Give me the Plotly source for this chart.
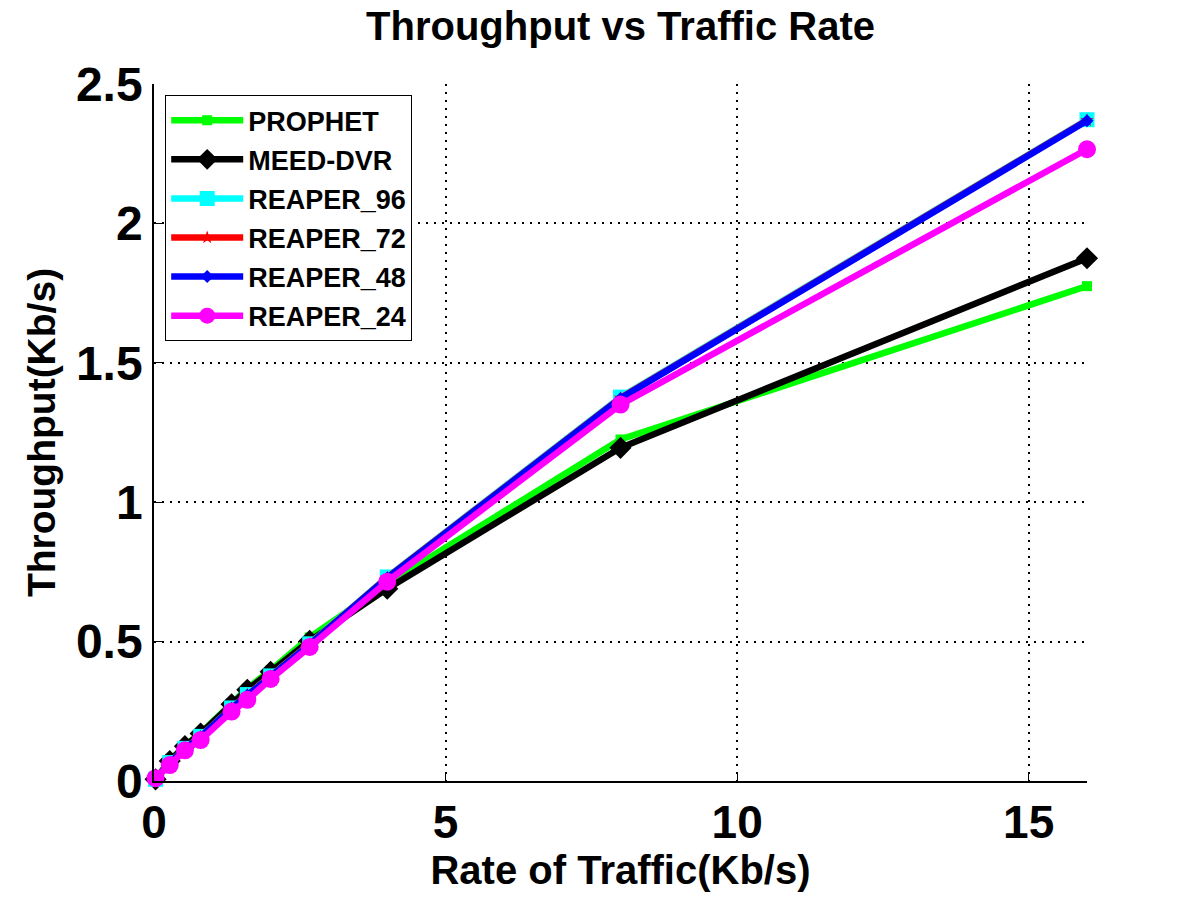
import plotly.graph_objects as go

rate = [0.027, 0.27, 0.53, 0.8, 1.33, 1.6, 2.0, 2.67, 4, 8, 16]

prophet = [0.006, 0.072, 0.127, 0.172, 0.278, 0.332, 0.397, 0.515, 0.708, 1.225, 1.775]
meed_dvr = [0.006, 0.072, 0.125, 0.170, 0.275, 0.327, 0.392, 0.503, 0.690, 1.195, 1.875]
reaper_96 = [0.006, 0.066, 0.117, 0.160, 0.262, 0.310, 0.377, 0.492, 0.732, 1.377, 2.372]
reaper_72 = [0.006, 0.065, 0.116, 0.159, 0.261, 0.309, 0.376, 0.491, 0.730, 1.374, 2.370]
reaper_48 = [0.006, 0.064, 0.115, 0.158, 0.260, 0.308, 0.375, 0.490, 0.728, 1.372, 2.368]
reaper_24 = [0.010, 0.057, 0.110, 0.147, 0.249, 0.291, 0.366, 0.481, 0.715, 1.350, 2.266]

names = ["PROPHET", "MEED-DVR", "REAPER_96", "REAPER_72", "REAPER_48", "REAPER_24"]
series = [prophet, meed_dvr, reaper_96, reaper_72, reaper_48, reaper_24]
colors = ["#00ff00", "#000000", "#00ffff", "#ff0000", "#0000ff", "#ff00ff"]
symbols = ["square", "diamond", "square", "star", "diamond", "circle"]
sizes = [10, 17, 15, 10, 10, 18]

fig = go.Figure()
for i, (n, s, c, sym, sz) in enumerate(zip(names, series, colors, symbols, sizes)):
    fig.add_trace(go.Scatter(
        x=rate, y=s, name=n, mode="lines+markers",
        line=dict(color=c, width=6.5),
        marker=dict(symbol=sym, size=sz, color=c, line=dict(width=0)),
        cliponaxis=False, legendgroup=n,
    ))

FONT = "Liberation Sans"
fig.update_layout(
    width=1200, height=900,
    margin=dict(l=154, r=113, t=84, b=119),
    paper_bgcolor="white", plot_bgcolor="white",
    font=dict(family=FONT, color="black"),
    title=dict(text="<b>Throughput vs Traffic Rate</b>", x=(154 + 1087) / 2 / 1200,
               xanchor="center", y=1 - 26 / 900, yanchor="middle", yref="container",
               font=dict(size=40, family=FONT, color="black")),
    showlegend=True,
    legend=dict(x=0.012, y=0.984, xanchor="left", yanchor="top",
                bgcolor="white", bordercolor="black", borderwidth=1,
                font=dict(size=27, family=FONT, color="black", weight="bold"),
                tracegroupgap=1, itemwidth=72),
)
fig.update_xaxes(
    range=[0, 16], tickvals=[0, 5, 10, 15], ticktext=["0", "5", "10", "15"],
    showline=True, linecolor="black", linewidth=1.5, mirror=False,
    ticks="inside", ticklen=8, tickcolor="black",
    showgrid=True, gridcolor="black", griddash="2px,6px", gridwidth=1.5,
    zeroline=False,
    tickfont=dict(size=46, family=FONT, color="black", weight="bold"),
    title=dict(text="<b>Rate of Traffic(Kb/s)</b>", font=dict(size=40, family=FONT, color="black"),
               standoff=6),
)
fig.update_yaxes(
    range=[0, 2.5], tickvals=[0, 0.5, 1, 1.5, 2, 2.5], ticktext=["0", "0.5", "1", "1.5", "2", "2.5"],
    showline=True, linecolor="black", linewidth=1.5, mirror=False,
    ticks="inside", ticklen=8, tickcolor="black",
    showgrid=True, gridcolor="black", griddash="2px,6px", gridwidth=1.5,
    zeroline=False,
    tickfont=dict(size=48, family=FONT, color="black", weight="bold"),
    title=dict(text="<b>Throughput(Kb/s)</b>", font=dict(size=39, family=FONT, color="black"),
               standoff=8),
)

fig.write_html("out.html")
